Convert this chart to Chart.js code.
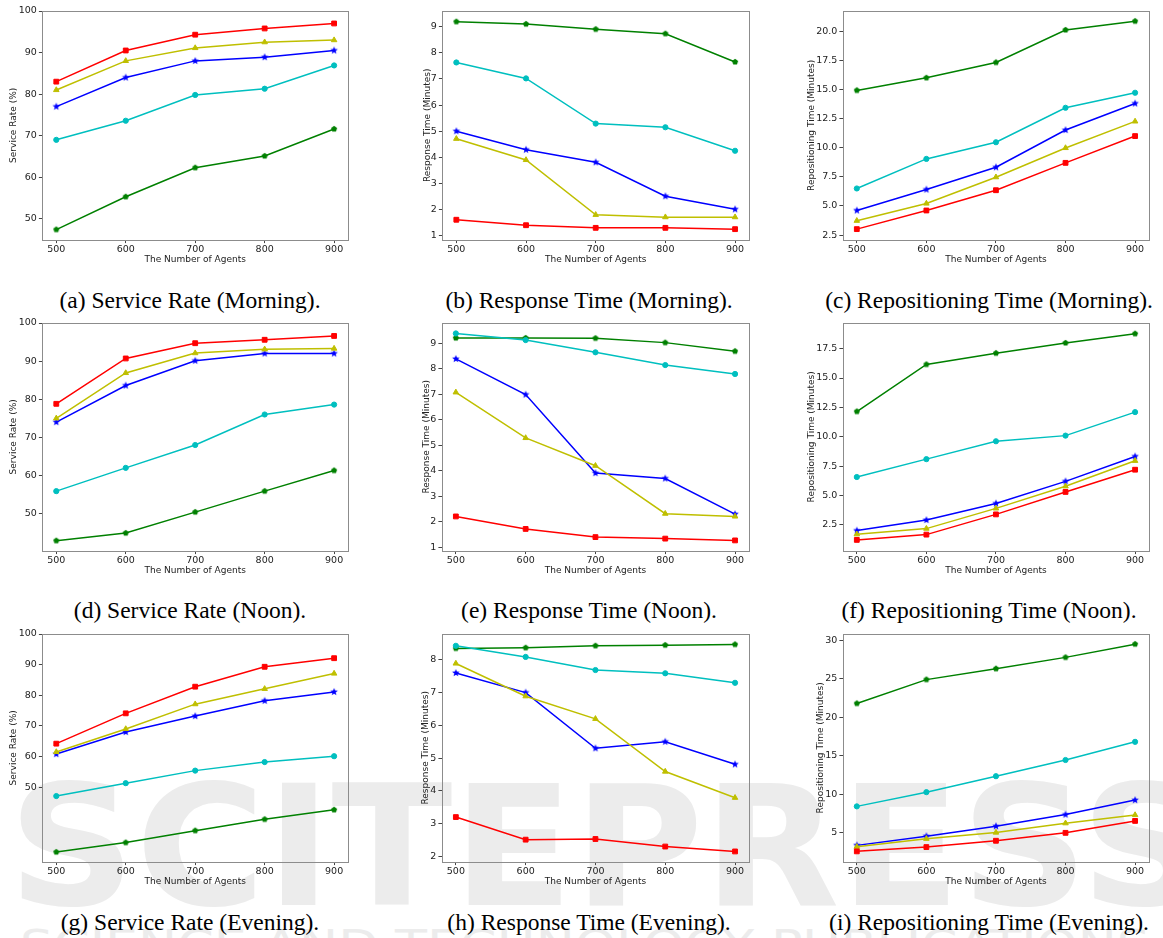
<!DOCTYPE html>
<html>
<head>
<meta charset="utf-8">
<script src="https://cdn.jsdelivr.net/npm/chart.js@4.4.0/dist/chart.umd.min.js"></script>
<style>
  body { margin: 0; background: #fff; width: 1163px; height: 938px; position: relative; overflow: hidden; }
  .panel { position: absolute; }
  .cap { position: absolute; font-family: "Liberation Serif", "DejaVu Serif", serif; font-size: 23.5px; color: #000;
         white-space: nowrap; transform: translate(-50%, -50%); }
  #wm { position: absolute; left: 0; top: 0; }
</style>
</head>
<body>
<svg id="wm" width="1163" height="938">
  <text x="8" y="905" font-family="DejaVu Sans" font-weight="bold" font-size="168" fill="#ececec"
        textLength="1200" lengthAdjust="spacingAndGlyphs">SCITEPRESS</text>
  <text x="20" y="960" font-family="DejaVu Sans" font-size="42" fill="#ececec"
        textLength="1130" lengthAdjust="spacingAndGlyphs">SCIENCE AND TECHNOLOGY PUBLICATIONS</text>
</svg>
<div id="root"></div>
<script>
const agents = [500, 600, 700, 800, 900];

// each panel: [red square, yellow triangle, blue star, cyan circle, green pentagon]
const serviceMorning = [
  [83.0, 90.5, 94.3, 95.8, 97.0],
  [81.0, 88.0, 91.1, 92.5, 93.0],
  [77.0, 84.0, 88.0, 88.9, 90.5],
  [69.0, 73.6, 79.8, 81.3, 86.9],
  [47.4, 55.3, 62.3, 65.1, 71.6]
];
const responseMorning = [
  [1.61, 1.40, 1.30, 1.30, 1.25],
  [4.71, 3.90, 1.80, 1.71, 1.71],
  [5.00, 4.29, 3.81, 2.51, 2.01],
  [7.63, 7.02, 5.29, 5.15, 4.25],
  [9.19, 9.10, 8.90, 8.73, 7.65]
];
const repositionMorning = [
  [3.01, 4.61, 6.35, 8.70, 11.00],
  [3.73, 5.21, 7.47, 9.98, 12.26],
  [4.61, 6.41, 8.32, 11.52, 13.80],
  [6.50, 9.04, 10.47, 13.43, 14.72],
  [14.92, 16.00, 17.32, 20.11, 20.86]
];
const serviceNoon = [
  [78.8, 90.7, 94.7, 95.6, 96.6],
  [75.0, 86.9, 92.1, 93.1, 93.3],
  [74.0, 83.6, 90.1, 92.0, 92.0],
  [55.9, 62.0, 68.0, 76.0, 78.6],
  [42.9, 44.9, 50.4, 55.9, 61.3]
];
const responseNoon = [
  [2.21, 1.72, 1.40, 1.34, 1.27],
  [7.08, 5.29, 4.20, 2.32, 2.21],
  [8.39, 6.99, 3.91, 3.70, 2.30],
  [9.39, 9.13, 8.65, 8.15, 7.80],
  [9.21, 9.21, 9.20, 9.03, 8.69]
];
const repositionNoon = [
  [1.23, 1.68, 3.40, 5.31, 7.20],
  [1.71, 2.19, 3.91, 5.79, 7.96],
  [2.02, 2.92, 4.33, 6.21, 8.33],
  [6.58, 8.10, 9.62, 10.10, 12.10],
  [12.15, 16.15, 17.11, 17.98, 18.77]
];
const serviceEvening = [
  [64.2, 74.1, 82.8, 89.3, 92.1],
  [61.5, 69.0, 77.1, 82.1, 87.1],
  [60.8, 68.0, 73.2, 78.2, 81.1],
  [47.1, 51.3, 55.4, 58.2, 60.1],
  [28.8, 31.9, 35.8, 39.5, 42.6]
];
const responseEvening = [
  [3.20, 2.51, 2.53, 2.30, 2.15],
  [7.89, 6.89, 6.20, 4.59, 3.79],
  [7.60, 7.00, 5.30, 5.50, 4.81],
  [8.43, 8.09, 7.69, 7.59, 7.30],
  [8.35, 8.37, 8.43, 8.45, 8.47]
];
const repositionEvening = [
  [2.59, 3.15, 3.97, 5.00, 6.55],
  [3.19, 4.23, 5.04, 6.25, 7.32],
  [3.37, 4.57, 5.86, 7.37, 9.26],
  [8.44, 10.29, 12.36, 14.47, 16.83],
  [21.82, 24.92, 26.34, 27.81, 29.53]
];

const serviceTicks = [50, 60, 70, 80, 90, 100];
const responseTicksA = [1, 2, 3, 4, 5, 6, 7, 8, 9];
const responseTicksH = [2, 3, 4, 5, 6, 7, 8];
const repositionTicksA = [2.5, 5, 7.5, 10, 12.5, 15, 17.5, 20];
const repositionTicksF = [2.5, 5, 7.5, 10, 12.5, 15, 17.5];
const repositionTicksI = [5, 10, 15, 20, 25, 30];

const captions = [
  '(a) Service Rate (Morning).', '(b) Response Time (Morning).', '(c) Repositioning Time (Morning).',
  '(d) Service Rate (Noon).', '(e) Response Time (Noon).', '(f) Repositioning Time (Noon).',
  '(g) Service Rate (Evening).', '(h) Response Time (Evening).', '(i) Repositioning Time (Evening).'
];

const SR = 'Service Rate (%)', RT = 'Response Time (Minutes)', RP = 'Repositioning Time (Minutes)';

function marker(kind, color) {
  const c = document.createElement('canvas');
  const s = 10;
  c.width = c.height = s;
  const g = c.getContext('2d');
  g.fillStyle = color;
  g.beginPath();
  const n = kind === 'star' ? 10 : 5;
  for (let k = 0; k < n; k++) {
    const r = kind === 'star' ? (k % 2 ? 1.7 : 4.0) : 3.2;
    const a = -Math.PI / 2 + k * 2 * Math.PI / n;
    g.lineTo(s / 2 + r * Math.cos(a), s / 2 + r * Math.sin(a));
  }
  g.closePath();
  g.fill();
  return c;
}

const styles = [
  { color: '#ff0000', point: 'rect', radius: 3.4 },
  { color: '#bfbf00', point: 'triangle', radius: 3.2 },
  { color: '#0000ff', point: marker('star', '#0000ff'), radius: 3 },
  { color: '#00bfbf', point: 'circle', radius: 2.6 },
  { color: '#008000', point: marker('pent', '#008000'), radius: 3 }
];

// plot area rectangles [left, top, right, bottom], y-title offset from plot left
const panels = [
  { data: serviceMorning, ylab: SR, min: 45.0, max: 100, ticks: serviceTicks, l: 42, t: 11, r: 348, b: 240, off: 29 },
  { data: responseMorning, ylab: RT, min: 0.85, max: 9.6, ticks: responseTicksA, l: 442, t: 11, r: 749, b: 240, off: 15 },
  { data: repositionMorning, ylab: RP, min: 2.11, max: 21.74, ticks: repositionTicksA, dec: 1, l: 843, t: 11, r: 1149, b: 240, off: 31.5 },
  { data: serviceNoon, ylab: SR, min: 40.3, max: 100, ticks: serviceTicks, l: 42, t: 323, r: 348, b: 551, off: 29 },
  { data: responseNoon, ylab: RT, min: 0.87, max: 9.8, ticks: responseTicksA, l: 442, t: 323, r: 749, b: 551, off: 15.5 },
  { data: repositionNoon, ylab: RP, min: 0.32, max: 19.68, ticks: repositionTicksF, dec: 1, l: 843, t: 323, r: 1149, b: 551, off: 31.5 },
  { data: serviceEvening, ylab: SR, min: 25.7, max: 100, ticks: serviceTicks, l: 42, t: 634, r: 348, b: 862, off: 29 },
  { data: responseEvening, ylab: RT, min: 1.84, max: 8.79, ticks: responseTicksH, l: 442, t: 634, r: 749, b: 862, off: 16.5 },
  { data: repositionEvening, ylab: RP, min: 1.26, max: 30.85, ticks: repositionTicksI, l: 843, t: 634, r: 1149, b: 862, off: 22.5 }
];
const capX = [190, 589, 989];
const capY = [300, 610, 922];

const framePlugin = {
  id: 'frame',
  afterDraw(chart) {
    const { ctx, chartArea: a } = chart;
    ctx.save();
    ctx.strokeStyle = '#8c8c8c';
    ctx.lineWidth = 1;
    ctx.strokeRect(Math.round(a.left) + 0.5, Math.round(a.top) + 0.5, Math.round(a.right - a.left), Math.round(a.bottom - a.top));
    ctx.restore();
  }
};

const tickFont = { family: 'DejaVu Sans', size: 9.5 };
const titleFont = { family: 'DejaVu Sans', size: 9, lineHeight: 1.2 };
const root = document.getElementById('root');

panels.forEach((p, i) => {
  const wy = p.off + 5.4;
  const hx = 25.4;
  const padT = 8, padR = 8;
  const div = document.createElement('div');
  div.className = 'panel';
  div.style.left = (p.l - wy) + 'px';
  div.style.top = (p.t - padT) + 'px';
  const canvas = document.createElement('canvas');
  canvas.width = Math.round(p.r - p.l + wy + padR);
  canvas.height = Math.round(p.b - p.t + padT + hx);
  div.appendChild(canvas);
  root.appendChild(div);

  const cap = document.createElement('div');
  cap.className = 'cap';
  cap.textContent = captions[i];
  cap.style.left = capX[i % 3] + 'px';
  cap.style.top = capY[Math.floor(i / 3)] + 'px';
  root.appendChild(cap);

  new Chart(canvas, {
    type: 'line',
    data: {
      datasets: p.data.map((vals, k) => ({
        data: vals.map((v, j) => ({ x: agents[j], y: v })),
        borderColor: styles[k].color,
        backgroundColor: styles[k].color,
        pointBackgroundColor: styles[k].color,
        pointBorderColor: styles[k].color,
        pointBorderWidth: 1,
        pointStyle: styles[k].point,
        pointRadius: styles[k].radius,
        borderWidth: 1.5,
        tension: 0,
        fill: false
      }))
    },
    options: {
      responsive: false,
      animation: false,
      devicePixelRatio: 1,
      layout: { padding: { left: 0, top: padT, right: padR, bottom: 0 } },
      plugins: { legend: { display: false }, tooltip: { enabled: false } },
      scales: {
        x: {
          type: 'linear',
          min: 480,
          max: 920,
          afterBuildTicks: s => { s.ticks = agents.map(v => ({ value: v })); },
          afterFit: s => { s.height = hx; },
          ticks: { font: tickFont, color: '#222', padding: 1, maxRotation: 0, autoSkip: false },
          grid: { drawOnChartArea: false, drawTicks: true, tickLength: 3.5, color: '#444' },
          border: { display: false },
          title: { display: true, text: 'The Number of Agents', font: titleFont, color: '#222', padding: { top: 0, bottom: 0 } }
        },
        y: {
          type: 'linear',
          min: p.min,
          max: p.max,
          afterBuildTicks: s => { s.ticks = p.ticks.map(v => ({ value: v })); },
          afterFit: s => { s.width = wy; },
          ticks: {
            font: tickFont, color: '#222', padding: 2, autoSkip: false,
            callback: v => p.dec ? v.toFixed(1) : String(v)
          },
          grid: { drawOnChartArea: false, drawTicks: true, tickLength: 3.5, color: '#444' },
          border: { display: false },
          title: { display: true, text: p.ylab, font: titleFont, color: '#222', padding: { top: 0, bottom: 0 } }
        }
      }
    },
    plugins: [framePlugin]
  });
});
</script>
</body>
</html>
